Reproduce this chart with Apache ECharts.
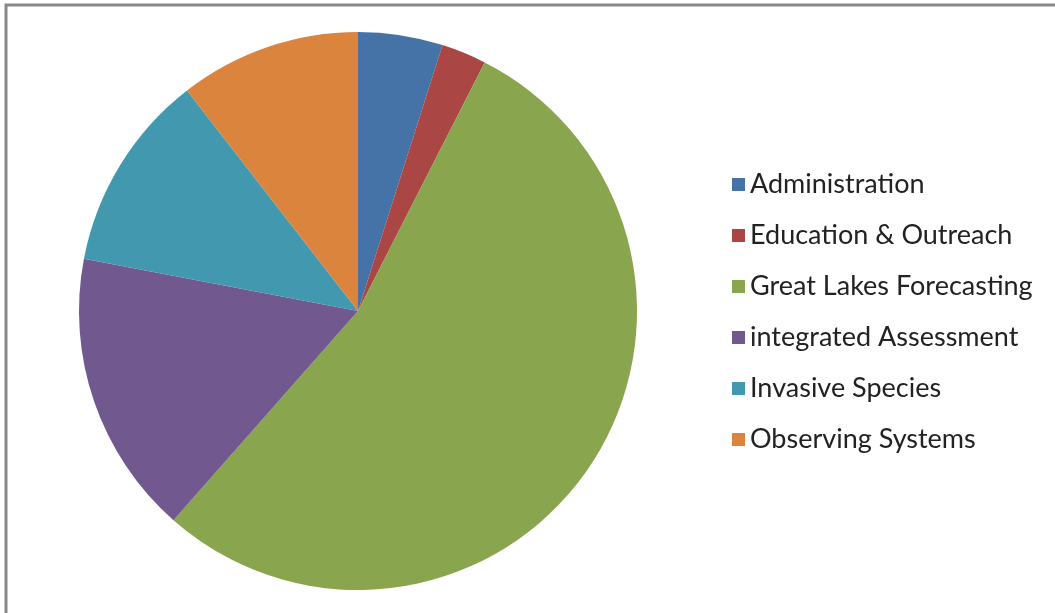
<!DOCTYPE html>
<html>
<head>
<meta charset="utf-8">
<script src="https://cdn.jsdelivr.net/npm/echarts@6/dist/echarts.min.js"></script>
<style>
html,body{margin:0;padding:0;background:#fff;}
#c{width:1055px;height:613px;}
</style>
</head>
<body>
<div id="c"></div>
<script>
const categories = ['Administration','Education & Outreach','Great Lakes Forecasting','integrated Assessment','Invasive Species','Observing Systems'];
const values = [4.9, 2.6, 54.0, 16.5, 11.5, 10.5];
const colors = ['#4572A7','#AA4643','#89A54E','#71588F','#4198AF','#DB843D'];

const chart = echarts.init(document.getElementById('c'), null, {renderer:'canvas'});
chart.setOption({
  animation:false,
  backgroundColor:'#fff',
  color: colors,
  graphic:[{
    type:'rect',
    shape:{x:6,y:5,width:1200,height:800},
    style:{fill:null,stroke:'#878787',lineWidth:3},
    silent:true
  }],
  legend:{
    orient:'vertical',
    left:727, top:166,
    icon:'rect', itemWidth:13, itemHeight:13, itemGap:24,
    textStyle:{fontFamily:'Lato',fontSize:27,color:'#222',padding:[0,0,0,0]},
    data: categories
  },
  series:[{
    type:'pie',
    center:[358,311],
    radius:[0,279],
    startAngle:90,
    clockwise:true,
    label:{show:false},
    labelLine:{show:false},
    itemStyle:{borderWidth:0},
    emphasis:{disabled:true},
    data: categories.map((n,i)=>({name:n,value:values[i]}))
  }]
});
</script>
</body>
</html>
